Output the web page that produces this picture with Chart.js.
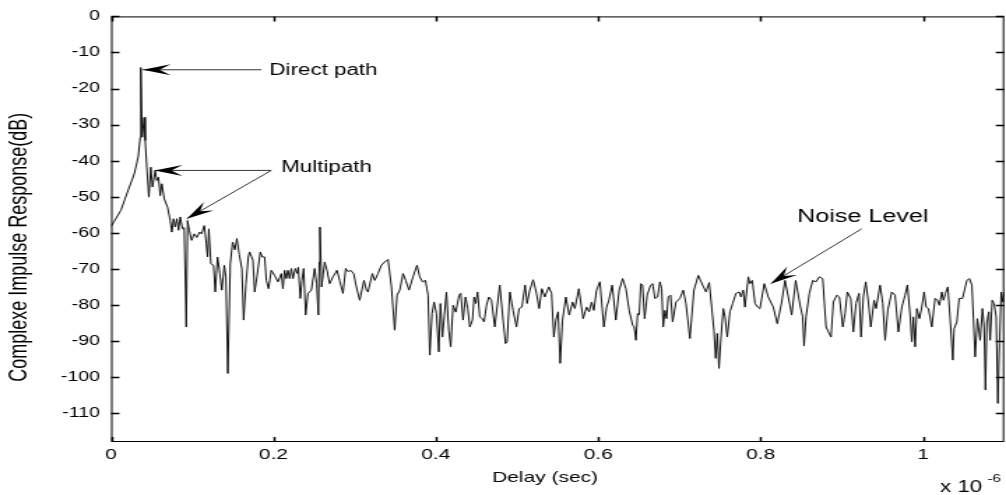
<!DOCTYPE html>
<html>
<head>
<meta charset="utf-8">
<script src="https://cdn.jsdelivr.net/npm/chart.js@4.4.0/dist/chart.umd.min.js"></script>
<style>
  html, body { margin: 0; padding: 0; background: #fff; }
  canvas { display: block; }
</style>
</head>
<body>
<!-- drawn at 720 wide and stretched to 1006, like the original figure -->
<canvas id="impulse" width="720" height="495" style="width:1006px;height:495px"></canvas>
<script>
// === DATA ===
// delay in units of 1e-6 s
const delayUs = [
  0, 0.004, 0.012, 0.0202, 0.0285, 0.0334, 0.0359, 0.0366, 0.0383, 0.0408,
  0.042, 0.044, 0.0465, 0.0489, 0.051, 0.0544, 0.0563, 0.0584, 0.0605, 0.0625,
  0.0655, 0.0695, 0.0728, 0.0748, 0.0769, 0.079, 0.081, 0.0831, 0.0852, 0.088,
  0.0901, 0.0926, 0.0942, 0.0963, 0.0991, 0.1024, 0.1056, 0.109, 0.1114, 0.1148,
  0.1172, 0.1188, 0.1204, 0.1229, 0.1262, 0.1283, 0.1311, 0.134, 0.1364, 0.1394,
  0.1414, 0.1438, 0.1468, 0.1496, 0.1525, 0.1549, 0.1579, 0.1611, 0.1632, 0.166,
  0.169,
  0.1706, 0.1747, 0.1768, 0.1796, 0.1838, 0.1862, 0.1891, 0.1912, 0.194, 0.1973,
  0.2014, 0.2055, 0.2097, 0.2116, 0.2137, 0.2158, 0.2178, 0.2199, 0.222, 0.224,
  0.2269, 0.2294, 0.2306, 0.2331, 0.2351, 0.2372, 0.2396, 0.2425, 0.2466, 0.2507,
  0.2532, 0.2553, 0.2564, 0.2572, 0.2593, 0.263, 0.2659, 0.2692, 0.2733, 0.2782,
  0.2815, 0.2856, 0.2889, 0.2922, 0.2951, 0.2988, 0.3021, 0.3062, 0.3115, 0.3144,
  0.3164, 0.3218, 0.3247, 0.3287, 0.3329, 0.337, 0.3411, 0.3453, 0.3493, 0.3522,
  0.3555, 0.3596, 0.3629, 0.3669, 0.3719, 0.3768, 0.3801, 0.3835, 0.3872, 0.3904,
  0.3925, 0.3953, 0.3978, 0.4007, 0.4036,
  0.4056, 0.4081, 0.413, 0.4159, 0.4183, 0.4212, 0.4245, 0.4286, 0.4307, 0.4335,
  0.4365, 0.4393, 0.4418, 0.4451, 0.4471, 0.4492, 0.4513, 0.4541, 0.4569, 0.4594,
  0.4624, 0.4652, 0.4685, 0.4726, 0.4787, 0.4828, 0.4858, 0.4877, 0.4911, 0.4951,
  0.4993, 0.5025, 0.5059, 0.5099, 0.5124, 0.5157, 0.5198, 0.524, 0.5272, 0.5305,
  0.5342, 0.5391, 0.5425, 0.5453, 0.5478, 0.5506, 0.5531, 0.556, 0.5601, 0.5642,
  0.5684, 0.5712, 0.5761, 0.5814, 0.5856, 0.5888, 0.5918, 0.5946, 0.5979, 0.602,
  0.6069, 0.6103, 0.6131,
  0.6172, 0.6217, 0.6258, 0.63, 0.6341, 0.6381, 0.6423, 0.6443, 0.6464, 0.6485,
  0.6504, 0.6525, 0.6546, 0.6571, 0.6603, 0.6645, 0.667, 0.6698, 0.6731, 0.676,
  0.6781, 0.68, 0.6821, 0.6842, 0.6862, 0.6892, 0.6916, 0.6957, 0.7006, 0.7047,
  0.708, 0.7129, 0.7179, 0.7232, 0.7286, 0.7327, 0.7367, 0.7397, 0.7425, 0.7446,
  0.7466, 0.7487, 0.7512, 0.754, 0.7561, 0.7589, 0.7622, 0.7656, 0.7696, 0.7737,
  0.7758, 0.7786, 0.7807, 0.7848, 0.7869, 0.7897, 0.7931, 0.7964, 0.7992, 0.8045,
  0.8094, 0.8156, 0.8205, 0.826, 0.83, 0.8341, 0.8383, 0.8432,
  0.8485, 0.8518, 0.8535, 0.8559, 0.86, 0.8642, 0.8683, 0.8723, 0.8765, 0.8806,
  0.8846, 0.8867, 0.8896, 0.8938, 0.897, 0.9012, 0.904, 0.9068, 0.911, 0.9142,
  0.9175, 0.9212, 0.9237, 0.9265, 0.9295, 0.9327, 0.9357, 0.9397, 0.9422, 0.9471,
  0.9505, 0.9533, 0.9566, 0.9615, 0.9656, 0.9697, 0.9739, 0.9779, 0.9808, 0.9841,
  0.9862, 0.9882, 0.9903, 0.9924, 0.9956, 0.9985, 1.0014, 1.0038, 1.0067, 1.0108,
  1.0149, 1.0178, 1.0202, 1.0232, 1.0252, 1.0276, 1.0306, 1.0334, 1.0367, 1.0383,
  1.0417, 1.0445, 1.0486, 1.054, 1.0572, 1.0602, 1.0621, 1.0642, 1.067, 1.0704,
  1.0732, 1.0753, 1.0769, 1.0787, 1.0811, 1.0827, 1.0852, 1.0876, 1.0901, 1.0922,
  1.0942, 1.0963, 1.0984, 1.1
];

// complex impulse response, dB
const responseDb = [
  -58.2, -56.8, -53.8, -48.7, -43.7, -39, -33.5, -14.2, -33.5, -28,
  -34.4, -41.8, -50.1, -41.8, -47.3, -42.7, -45.5, -44.6, -49.7, -46.4,
  -50.6, -52.9, -56.6, -59.8, -56.1, -58.4, -56.1, -59.3, -55.6, -58.9,
  -58.6, -86.1, -56.6, -59.3, -62.1, -60.3, -61.3, -59.8, -60.3, -58,
  -63, -66.7, -58.9, -68.6, -69, -76.4, -66.7, -71.3, -75.9, -69,
  -72.2, -99, -68.6, -62.6, -64.7, -61.6, -66, -70, -84.2, -74.4,
  -66.7,
  -65.3, -67.6, -76.4, -72.2, -65.3, -66.7, -66.7, -73.2, -75.5, -70.4,
  -71.8, -73.6, -71.3, -75.5, -70.4, -72.7, -70.4, -72.7, -69.9, -72.7,
  -69.9, -71.3, -69.5, -78.2, -73.2, -69.9, -82.8, -76.8, -75.9, -69.9,
  -74.1, -82.8, -68.1, -58.4, -75, -68.1, -70.4, -74.1, -72.2, -70.4,
  -73.2, -76.8, -69.9, -70.8, -70.4, -71.3, -75, -78.7, -73.2, -75.9,
  -76.4, -71.3, -73.2, -71.3, -69, -68.1, -67.4, -75, -87, -77.3,
  -75.9, -71.3, -73.2, -75.9, -72.2, -69, -72.2, -73.6, -73.2, -77.3,
  -93.9, -82.4, -79.2, -82.4, -93,
  -79.6, -88.9, -76.4, -87, -91.6, -80.1, -82, -77.3, -76.8, -84.2,
  -77.8, -81, -86.1, -84.2, -77.8, -79.6, -76.4, -83.3, -83.8, -84.7,
  -80.1, -77.8, -78.7, -86.1, -74.5, -84.2, -90.7, -90.2, -76.4, -81.5,
  -86.1, -81, -80.6, -74.5, -79.6, -75.9, -73, -76.8, -81, -75.5,
  -77.8, -75, -76.8, -88.9, -84.2, -81.9, -96.2, -84.2, -77.8, -82.8,
  -79.2, -81, -75.5, -83.8, -80.6, -81.9, -79.2, -81.5, -75.9, -73.6,
  -86.1, -80.6, -78.7,
  -74.5, -84.2, -75.9, -72.7, -75.5, -81.5, -85.6, -86.1, -89.8, -82.4,
  -82.8, -74.1, -74.5, -83.8, -77.3, -74.5, -74.1, -78.2, -77.8, -73.6,
  -75.5, -86.1, -81.5, -83.8, -77.8, -77.3, -84.7, -79.2, -78.2, -75.9,
  -79.6, -89.3, -75.9, -71.8, -74.5, -76.4, -73.8, -80.6, -87, -94.8,
  -87.9, -97.6, -88.9, -81, -83.3, -88.9, -81.9, -79.6, -76.8, -76.4,
  -77.8, -75.9, -80.6, -72.2, -74.1, -73.2, -79.6, -80.6, -81, -74.1,
  -77.8, -80.6, -85.2, -79.2, -73.2, -77.8, -82.8, -73.2,
  -80, -83.3, -91.4, -83.3, -76.8, -73.2, -73.6, -72.2, -72.7, -86.1,
  -88, -88.9, -79.2, -77.3, -77.8, -86.1, -82.4, -76.4, -78.2, -87.5,
  -79.6, -76.8, -88.9, -77.8, -73.6, -79.2, -86.1, -78.7, -81, -74.5,
  -79.6, -89.8, -81.5, -76.4, -77.3, -87.5, -80.6, -77.3, -74.5, -82.8,
  -90.2, -83.3, -91.6, -81, -83.8, -80.6, -76.4, -80.6, -81, -86.1,
  -78.2, -78.7, -80.1, -76.4, -78.7, -76.8, -75, -83.8, -95.3, -86.6,
  -84.7, -78.2, -78.2, -73.2, -72.7, -74.5, -83.8, -94.4, -83.8, -89.8,
  -81, -86.1, -103.6, -84.7, -81.9, -89.8, -78.7, -79.6, -83.3, -107.3,
  -90.7, -76.4, -79.2, -76.4
];

const xTicks = [0, 0.2, 0.4, 0.6, 0.8, 1];
const xTickLabels = ["0", "0.2", "0.4", "0.6", "0.8", "1"];
const yTicks = [0, -10, -20, -30, -40, -50, -60, -70, -80, -90, -100, -110];

// annotations (data coordinates)
const noteTexts = ["Direct path", "Multipath", "Noise Level"];
const noteSizes = [16, 16, 18];
const noteX = [0.195, 0.2095, 0.845];
const noteY = [-14.9, -41.8, -55.7];

const arrowFromX = [0.185, 0.1973, 0.1973, 0.9245];
const arrowFromY = [-14.8, -42.7, -42.7, -58.9];
const arrowToX = [0.039, 0.0535, 0.0933, 0.8125];
const arrowToY = [-14.8, -42.7, -56.1, -74.1];

// === CHART ===
const FONT = "'Liberation Sans', Arial, Helvetica, sans-serif";
Chart.defaults.font.family = FONT;
Chart.defaults.color = "#000";

function drawArrowHead(ctx, x0, y0, x1, y1) {
  const len = Math.hypot(x1 - x0, y1 - y0);
  const ux = (x1 - x0) / len, uy = (y1 - y0) / len;
  const nx = -uy, ny = ux;
  const L = 20, W = 5.5;
  ctx.beginPath();
  ctx.moveTo(x1, y1);
  ctx.lineTo(x1 - ux * L + nx * W, y1 - uy * L + ny * W);
  ctx.lineTo(x1 - ux * L * 0.6, y1 - uy * L * 0.6);
  ctx.lineTo(x1 - ux * L - nx * W, y1 - uy * L - ny * W);
  ctx.closePath();
  ctx.fill();
}

const framePlugin = {
  id: "frame",
  afterDraw(chart) {
    const { ctx, chartArea: a, scales: { x, y } } = chart;
    ctx.save();

    // box
    ctx.strokeStyle = "#000";
    ctx.lineWidth = 1;
    ctx.strokeRect(a.left + 0.5, a.top + 0.5, a.right - a.left - 1, a.bottom - a.top - 1);

    // inner ticks
    ctx.lineWidth = 1.5;
    ctx.beginPath();
    xTicks.forEach(v => {
      const px = Math.round(x.getPixelForValue(v)) + 0.5;
      ctx.moveTo(px, a.bottom); ctx.lineTo(px, a.bottom - 5);
      ctx.moveTo(px, a.top); ctx.lineTo(px, a.top + 5);
    });
    yTicks.forEach(v => {
      const py = Math.round(y.getPixelForValue(v)) + 0.5;
      ctx.moveTo(a.left, py); ctx.lineTo(a.left + 6, py);
      ctx.moveTo(a.right, py); ctx.lineTo(a.right - 6, py);
    });
    ctx.stroke();

    // x tick labels
    ctx.fillStyle = "#000";
    ctx.font = "15px " + FONT;
    ctx.textAlign = "center";
    ctx.textBaseline = "middle";
    xTicks.forEach((v, i) => {
      ctx.fillText(xTickLabels[i], x.getPixelForValue(v), a.bottom + 13);
    });

    // arrows
    ctx.strokeStyle = "#333";
    ctx.lineWidth = 1;
    arrowFromX.forEach((fx, i) => {
      const x0 = x.getPixelForValue(fx), y0 = y.getPixelForValue(arrowFromY[i]);
      const x1 = x.getPixelForValue(arrowToX[i]), y1 = y.getPixelForValue(arrowToY[i]);
      ctx.beginPath();
      ctx.moveTo(x0, y0); ctx.lineTo(x1, y1);
      ctx.stroke();
      drawArrowHead(ctx, x0, y0, x1, y1);
    });

    // notes
    ctx.textAlign = "left";
    noteTexts.forEach((t, i) => {
      ctx.font = noteSizes[i] + "px " + FONT;
      ctx.fillText(t, x.getPixelForValue(noteX[i]), y.getPixelForValue(noteY[i]));
    });

    // axis titles
    ctx.font = "15px " + FONT;
    ctx.textAlign = "center";
    ctx.fillText("Delay (sec)", (a.left + a.right) / 2 - 9, 478);

    ctx.textAlign = "left";
    ctx.textBaseline = "alphabetic";
    ctx.font = "16px " + FONT;
    ctx.fillText("x 10", a.right - 46, 492);
    ctx.font = "11px " + FONT;
    ctx.fillText("-6", a.right - 12, 482);

    ctx.save();
    ctx.translate(14.5, (a.top + a.bottom) / 2 + 18);
    ctx.rotate(-Math.PI / 2);
    ctx.textAlign = "center";
    ctx.textBaseline = "middle";
    ctx.font = "18px " + FONT;
    ctx.fillText("Complexe Impulse Response(dB)", 0, 0);
    ctx.restore();

    ctx.restore();
  }
};

new Chart(document.getElementById("impulse"), {
  type: "line",
  data: {
    datasets: [{
      data: delayUs.map((d, i) => ({ x: d, y: responseDb[i] })),
      borderColor: "#111",
      borderWidth: 1,
      pointRadius: 0,
      tension: 0,
      fill: false
    }]
  },
  options: {
    responsive: false,
    animation: false,
    devicePixelRatio: 1,
    layout: { padding: { top: 15, right: 1.3, left: 0, bottom: 0 } },
    plugins: { legend: { display: false }, tooltip: { enabled: false } },
    scales: {
      x: {
        type: "linear",
        min: 0,
        max: 1.1,
        afterBuildTicks: s => { s.ticks = xTicks.map(v => ({ value: v })); },
        afterFit: s => { s.height = 53; },
        grid: { display: false, drawTicks: false },
        border: { display: false },
        ticks: { display: false }
      },
      y: {
        type: "linear",
        min: -118,
        max: 0,
        afterBuildTicks: s => { s.ticks = yTicks.map(v => ({ value: v })); },
        afterFit: s => { s.width = 79.5; },
        grid: { display: false, drawTicks: false },
        border: { display: false },
        ticks: { autoSkip: false, padding: 8, font: { size: 14 }, callback: v => String(v) }
      }
    }
  },
  plugins: [framePlugin]
});
</script>
</body>
</html>
